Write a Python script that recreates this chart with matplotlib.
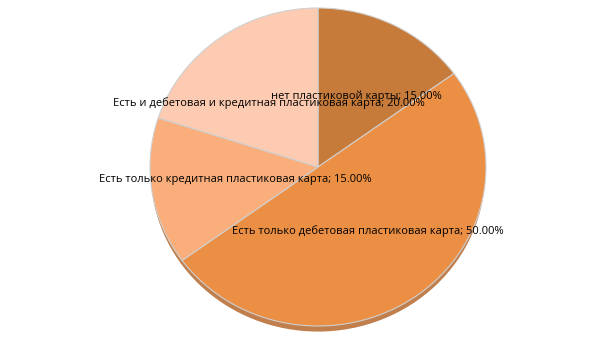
import matplotlib.pyplot as plt
from matplotlib.patches import Ellipse

labels = ['нет пластиковой карты', 'Есть только дебетовая пластиковая карта',
          'Есть только кредитная пластиковая карта',
          'Есть и дебетовая и кредитная пластиковая карта']
shares = [15.0, 50.0, 15.0, 20.0]
colors = ['#C77B3B', '#EB8F45', '#F9AE7B', '#FDCBB1']

plt.rcParams['font.family'] = ['Open Sans', 'DejaVu Sans']

fig = plt.figure(figsize=(6.05, 3.4), dpi=100)
ax = fig.add_axes([150 / 605, 14 / 340, 336 / 605, 318 / 340])

# shadow under the pie
shadow = Ellipse((0.0, -0.035), 1.99, 2.0, color='#b5692c', alpha=0.85,
                 zorder=0, clip_on=False, linewidth=0)
ax.add_patch(shadow)

texts = [f'{l}; {v:.2f}%' for l, v in zip(labels, shares)]
wedges, lbls = ax.pie(shares, labels=texts, colors=colors, startangle=90,
                      counterclock=False, labeldistance=0.5,
                      wedgeprops=dict(edgecolor='#d0d0d0', linewidth=0.8),
                      textprops=dict(fontsize=8, color='black'))
ax.set_aspect('auto')
ax.set_xlim(-1, 1)
ax.set_ylim(-1, 1)
ax.axis('off')
for t in lbls:
    t.set_ha('center')
    t.set_va('center')
    t.set_zorder(5)

fig.savefig('out.png', dpi=100)
